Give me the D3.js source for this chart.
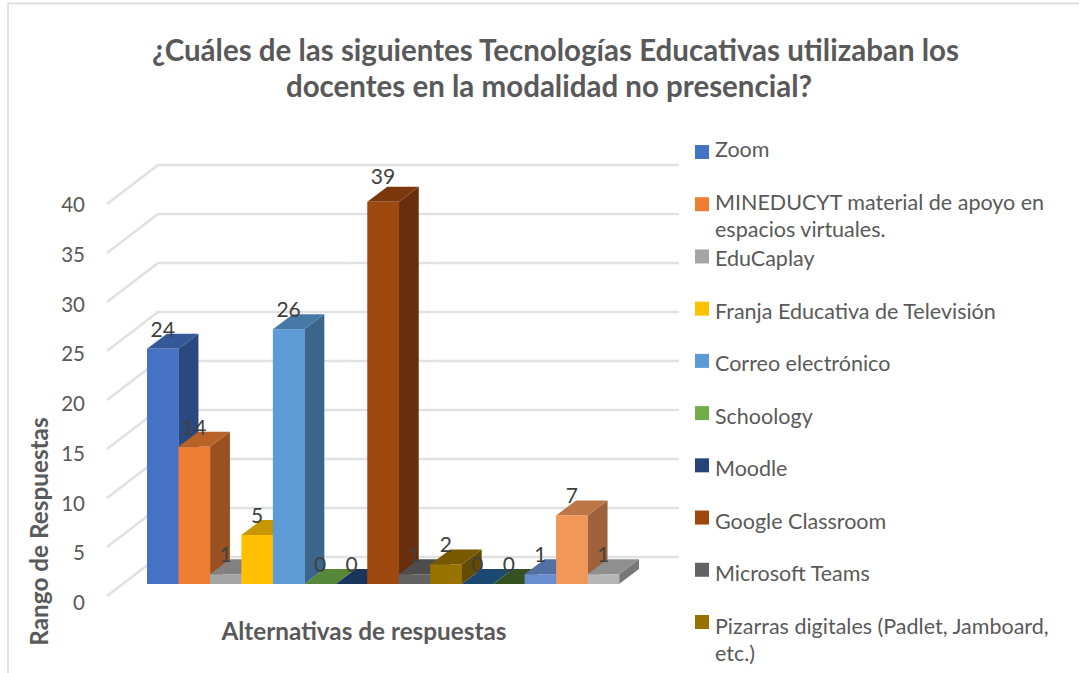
<!DOCTYPE html>
<html><head><meta charset="utf-8">
<style>html,body{margin:0;padding:0;background:#fff}svg{display:block}text{font-family:Lato,Carlito,sans-serif}</style>
<script src="https://cdn.jsdelivr.net/npm/d3@7/dist/d3.min.js"></script>
</head><body><svg id="c" width="1079" height="673"></svg>
<script>
const titleLines=["¿Cuáles de las siguientes Tecnologías Educativas utilizaban los","docentes en la modalidad no presencial?"];
const legendLines=[["Zoom"],["MINEDUCYT material de apoyo en","espacios virtuales."],["EduCaplay"],["Franja Educativa de Televisión"],["Correo electrónico"],["Schoology"],["Moodle"],["Google Classroom"],["Microsoft Teams"],["Pizarras digitales (Padlet, Jamboard,","etc.)"]];
const values=[24,14,1,5,26,0,0,39,1,2,0,0,1,7,1];
const colors=["#4472C4","#ED7D31","#A5A5A5","#FFC000","#5B9BD5","#70AD47","#264478","#9E480E","#636363","#997300","#255E91","#43682B","#698ED0","#F1975A","#B7B7B7"];
const ticks=[0,5,10,15,20,25,30,35,40];

const svg=d3.select("#c");
const ink="#595959";
const W=1079,H=673;
const x=d3.scaleBand().domain(d3.range(values.length)).range([147,619]);
const yBar=d3.scaleLinear().domain([0,40]).range([584,192]);
const yWall=d3.scaleLinear().domain([0,40]).range([557,165]);
const yTick=d3.scaleLinear().domain([0,40]).range([603,205]);
const wallL=158,wallR=679,sideDx=51,sideDy=39,barDx=20,barDy=15;

const defs=svg.append("defs");
defs.append("filter").attr("id","soft").attr("filterUnits","userSpaceOnUse").attr("x",0).attr("y",0).attr("width",W).attr("height",H)
  .append("feGaussianBlur").attr("stdDeviation",.45);

svg.append("path").attr("d",`M8,${H}V3.5H${W}`).attr("fill","none").attr("stroke","#d9d9d9").attr("stroke-width",1.5);

const gl=svg.append("g").attr("fill","none").attr("stroke","#e1e1e1").attr("stroke-width",2.6).attr("filter","url(#soft)");
gl.selectAll("path").data(ticks).join("path")
  .attr("d",t=>`M${wallL-sideDx},${yWall(t)+sideDy}L${wallL},${yWall(t)}H${wallR}`)
  .attr("stroke-linejoin","round");

const shade=(c,k)=>{const r=d3.rgb(c);return d3.rgb(r.r*k,r.g*k,r.b*k).formatHex();};
const bars=svg.append("g").attr("filter","url(#soft)").selectAll("g").data(values).join("g");
bars.append("path").attr("fill",(d,i)=>shade(colors[i],.65))
  .attr("d",(d,i)=>{const r=x(i)+x.bandwidth();return `M${r},${yBar(0)}L${r},${yBar(d)}l${barDx},${-barDy}L${r+barDx},${yBar(0)-barDy}Z`;});
bars.append("path").attr("fill",(d,i)=>shade(colors[i],.78))
  .attr("d",(d,i)=>{const l=x(i),b=x.bandwidth();return `M${l},${yBar(d)}l${barDx},${-barDy}h${b}l${-barDx},${barDy}Z`;});
bars.append("rect").attr("fill",(d,i)=>colors[i])
  .attr("x",(d,i)=>x(i)).attr("width",x.bandwidth()+.4)
  .attr("y",d=>yBar(d)).attr("height",d=>yBar(0)-yBar(d));

// data labels: the tallest label sits a little higher, as in the source
const maxV=d3.max(values);
svg.append("g").selectAll("text").data(values).join("text")
  .attr("x",(d,i)=>x(i)+x.bandwidth()/2).attr("y",d=>yBar(d)-(d===maxV?18:12))
  .attr("text-anchor","middle").attr("font-size",21).attr("fill","#404040").text(d=>d);

const ax=svg.append("g").attr("transform","translate(85,0)").call(d3.axisLeft(yTick).tickValues(ticks).tickSize(0).tickPadding(0));
ax.select(".domain").remove();
ax.selectAll("text").attr("x",0).attr("text-anchor","end").attr("font-size",20.5).attr("fill",ink).style("font-family","Lato");

svg.append("text").attr("x",555.5).attr("y",61).attr("text-anchor","middle").attr("font-size",29.5).attr("font-weight",700).attr("fill",ink).text(titleLines[0]);
svg.append("text").attr("x",549).attr("y",97).attr("text-anchor","middle").attr("font-size",29.5).attr("font-weight",700).attr("fill",ink).text(titleLines[1]);

svg.append("text").attr("x",364).attr("y",640).attr("text-anchor","middle").attr("font-size",24.3).attr("font-weight",700).attr("fill",ink).text("Alternativas de respuestas");
svg.append("text").attr("transform","translate(48,531.5) rotate(-90)").attr("text-anchor","middle").attr("font-size",24.3).attr("font-weight",700).attr("fill",ink).text("Rango de Respuestas");

const ySwatch=d3.scaleLinear().domain([0,9]).range([145,615]);
const yLabel=d3.scaleLinear().domain([0,1,2,9]).range([157,210,266,634]);
const leg=svg.append("g").selectAll("g").data(legendLines).join("g");
leg.append("rect").attr("x",695).attr("y",(d,i)=>ySwatch(i)).attr("width",14).attr("height",14).attr("fill",(d,i)=>colors[i]);
leg.each(function(d,i){
  d3.select(this).selectAll("text").data(d).join("text").attr("x",715).attr("y",(s,j)=>yLabel(i)+j*26.5)
    .attr("font-size",21.5).attr("fill",ink).text(s=>s);
});
</script></body></html>
